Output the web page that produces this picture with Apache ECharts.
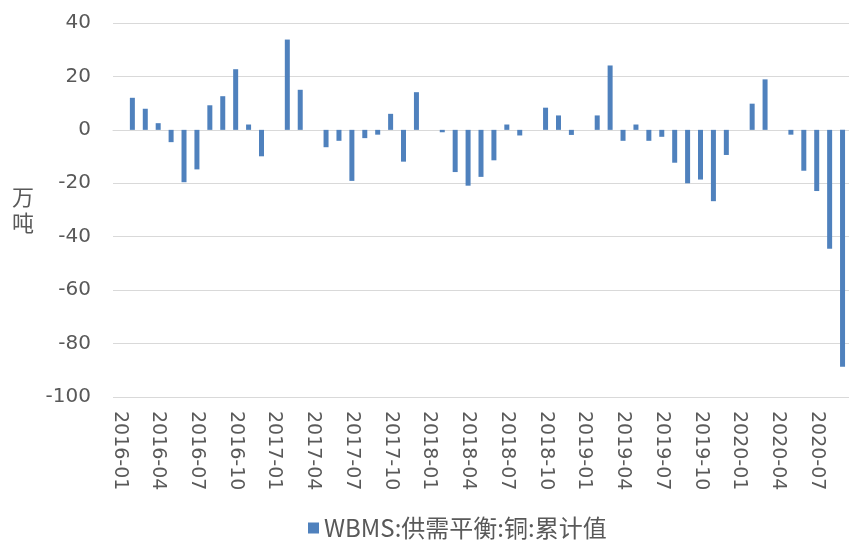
<!DOCTYPE html>
<html>
<head>
<meta charset="UTF-8">
<title>WBMS 供需平衡 铜 累计值</title>
<script src="https://cdn.jsdelivr.net/npm/echarts@6/dist/echarts.min.js"></script>
<style>
  html, body { margin: 0; padding: 0; background: #fff; }
  #main { width: 849px; height: 542px; }
</style>
</head>
<body>
<div id="main"></div>
<script type="text/javascript">
    // months 2016-01 .. 2020-09
    var months = [
        '2016-01','2016-02','2016-03','2016-04','2016-05','2016-06','2016-07','2016-08','2016-09','2016-10','2016-11','2016-12',
        '2017-01','2017-02','2017-03','2017-04','2017-05','2017-06','2017-07','2017-08','2017-09','2017-10','2017-11','2017-12',
        '2018-01','2018-02','2018-03','2018-04','2018-05','2018-06','2018-07','2018-08','2018-09','2018-10','2018-11','2018-12',
        '2019-01','2019-02','2019-03','2019-04','2019-05','2019-06','2019-07','2019-08','2019-09','2019-10','2019-11','2019-12',
        '2020-01','2020-02','2020-03','2020-04','2020-05','2020-06','2020-07','2020-08','2020-09'
    ];

    // 万吨, null = no value that month
    var balance = [
        null, 12.0, 7.9, 2.5, -4.6, -19.6, -14.8, 9.2, 12.6, 22.7, 2.0, -9.9,
        null, 33.8, 15.0, null, -6.5, -4.1, -19.1, -3.1, -1.8, 6.0, -11.9, 14.1,
        null, -0.9, -15.8, -20.9, -17.6, -11.4, 2.0, -2.1, null, 8.3, 5.4, -1.9,
        null, 5.4, 24.1, -4.1, 2.0, -4.1, -2.6, -12.3, -20.0, -18.6, -26.7, -9.4,
        null, 9.8, 18.9, null, -1.8, -15.3, -22.9, -44.5, -88.7
    ];

    var seriesName = 'WBMS:供需平衡:铜:累计值';
    var unitName = '万\n吨';

    var myChart = echarts.init(document.getElementById('main'));

    var option = {
        backgroundColor: '#ffffff',
        animation: false,
        textStyle: { fontFamily: 'DejaVu Sans, Noto Sans CJK SC, sans-serif' },
        legend: {
            data: [seriesName],
            left: 308,
            top: 516,
            padding: 0,
            itemWidth: 11,
            itemHeight: 11,
            icon: 'rect',
            textStyle: { fontSize: 24, color: '#595959', fontFamily: 'Noto Sans CJK SC, sans-serif' }
        },
        grid: {
            left: 113,
            top: 23,
            width: 740,
            height: 374,
            containLabel: false
        },
        xAxis: [{
            type: 'category',
            data: months,
            boundaryGap: true,
            axisLine: { show: true, lineStyle: { color: '#d9d9d9', width: 1 } },
            axisTick: { show: false },
            axisLabel: {
                interval: 2,
                rotate: -90,
                margin: 14,
                fontSize: 19,
                color: '#595959'
            }
        }],
        yAxis: [{
            type: 'value',
            min: -100,
            max: 40,
            interval: 20,
            name: unitName,
            nameLocation: 'middle',
            nameRotate: 0,
            nameGap: 90,
            nameTextStyle: {
                align: 'center',
                verticalAlign: 'middle',
                fontSize: 22,
                lineHeight: 26,
                color: '#595959',
                fontFamily: 'Noto Sans CJK SC, sans-serif'
            },
            axisLine: { show: false },
            axisTick: { show: false },
            axisLabel: { fontSize: 20, color: '#595959', margin: 22 },
            splitLine: { lineStyle: { color: '#d9d9d9', width: 1 } }
        }],
        series: [{
            name: seriesName,
            type: 'bar',
            data: balance,
            barWidth: 5,
            itemStyle: { color: '#4f81bd' }
        }]
    };

    myChart.setOption(option);
</script>
</body>
</html>
